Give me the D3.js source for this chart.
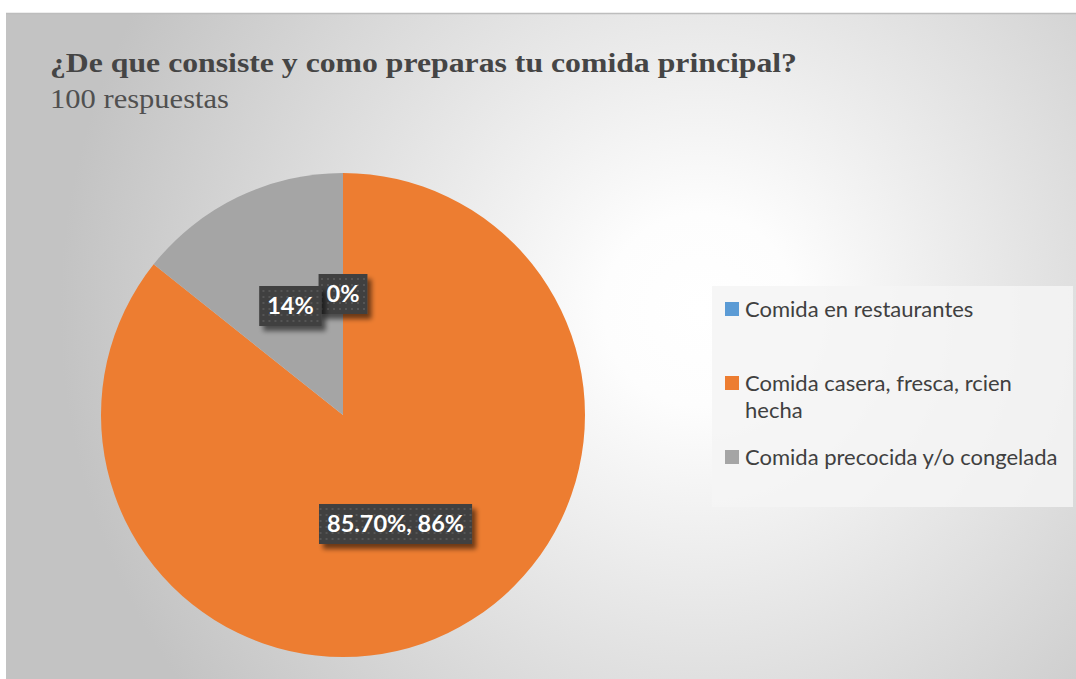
<!DOCTYPE html>
<html>
<head>
<meta charset="utf-8">
<script src="https://cdn.jsdelivr.net/npm/d3@7"></script>
<style>
  html, body { margin: 0; padding: 0; background: #ffffff; }
  svg { display: block; }
</style>
</head>
<body>
<svg id="chart" width="1076" height="679"></svg>
<script>
// Survey answers (percent of 100 responses)
const categories = [
  "Comida en restaurantes",
  "Comida casera, fresca, rcien hecha",
  "Comida precocida y/o congelada"
];
const values = [0, 85.7, 14.3];
// Whether the data label also shows the raw value before the percentage
const showValueInLabel = [false, true, false];
const colors = ["#5b9bd5", "#ed7d31", "#a5a5a5"];
// Legend lines (the long category wraps onto two lines)
const legendLines = [
  ["Comida en restaurantes"],
  ["Comida casera, fresca, rcien", "hecha"],
  ["Comida precocida y/o congelada"]
];
const titleText = "¿De que consiste y como preparas tu comida principal?";
const subtitleText = "100 respuestas";

const W = 1076, H = 679;
const svg = d3.select("#chart");
const defs = svg.append("defs");

// Chart area background: radial gray-to-white gradient
const grad = defs.append("radialGradient")
  .attr("id", "bg").attr("gradientUnits", "userSpaceOnUse")
  .attr("cx", 700).attr("cy", 310).attr("r", 640);
grad.append("stop").attr("offset", 0).attr("stop-color", "#ffffff");
grad.append("stop").attr("offset", 0.15).attr("stop-color", "#fdfdfd");
grad.append("stop").attr("offset", 1).attr("stop-color", "#c3c3c3");

// Dotted texture for data label boxes
const pat = defs.append("pattern").attr("id", "dots")
  .attr("patternUnits", "userSpaceOnUse").attr("width", 6).attr("height", 6);
pat.append("rect").attr("width", 6).attr("height", 6).attr("fill", "#404040");
pat.append("rect").attr("x", 2).attr("y", 2).attr("width", 2).attr("height", 2).attr("fill", "#545454");

// Soft drop shadow for label boxes
const sh = defs.append("filter").attr("id", "shadow")
  .attr("x", "-20%").attr("y", "-30%").attr("width", "150%").attr("height", "180%");
sh.append("feGaussianBlur").attr("in", "SourceAlpha").attr("stdDeviation", 2.5).attr("result", "b");
sh.append("feOffset").attr("in", "b").attr("dx", 4).attr("dy", 5).attr("result", "o");
sh.append("feComponentTransfer").attr("in", "o").attr("result", "s")
  .append("feFuncA").attr("type", "linear").attr("slope", 0.55);
const m = sh.append("feMerge");
m.append("feMergeNode").attr("in", "s");
m.append("feMergeNode").attr("in", "SourceGraphic");

const frame = { x: 6, y: 13, w: W - 6, h: H - 13 };
svg.append("rect")
  .attr("x", frame.x).attr("y", frame.y).attr("width", frame.w).attr("height", frame.h)
  .attr("fill", "url(#bg)");
svg.append("line").attr("x1", frame.x).attr("x2", W).attr("y1", frame.y + 0.5).attr("y2", frame.y + 0.5)
  .attr("stroke", "#bdbdbd").attr("stroke-width", 1.5);

// Titles
svg.append("text")
  .attr("x", 50).attr("y", 72)
  .attr("font-family", "'Liberation Serif', 'DejaVu Serif', serif")
  .attr("font-weight", "bold").attr("font-size", 28)
  .attr("textLength", 747).attr("lengthAdjust", "spacingAndGlyphs")
  .attr("fill", "#454545")
  .text(titleText);
svg.append("text")
  .attr("x", 50).attr("y", 108)
  .attr("font-family", "'Liberation Serif', 'DejaVu Serif', serif")
  .attr("font-size", 28)
  .attr("textLength", 179).attr("lengthAdjust", "spacingAndGlyphs")
  .attr("fill", "#505050")
  .text(subtitleText);

// Pie
const cx = 343, cy = 415, R = 242;
const total = d3.sum(values);
const pie = d3.pie().sort(null).value(d => d)(values);
const arc = d3.arc().innerRadius(0).outerRadius(R);
const labelArc = d3.arc().innerRadius(R * 0.5).outerRadius(R * 0.5);

const g = svg.append("g").attr("transform", `translate(${cx},${cy})`);
g.selectAll("path.slice").data(pie).join("path")
  .attr("class", "slice")
  .attr("d", arc)
  .attr("fill", (d, i) => colors[i]);

const pctFmt = d3.format(".0%");
const valFmt = v => d3.format(".2f")(v) + "%";
const labelText = (d, i) => showValueInLabel[i]
  ? `${valFmt(d.data)}, ${pctFmt(d.data / total)}`
  : pctFmt(d.data / total);

const lab = g.selectAll("g.lab").data(pie).join("g")
  .attr("class", "lab")
  .attr("transform", d => { const c = labelArc.centroid(d); return `translate(${c[0]},${c[1]})`; });
lab.each(function (d, i) {
  const sel = d3.select(this);
  const t = sel.append("text")
    .attr("text-anchor", "middle").attr("dy", "0.36em")
    .attr("font-family", "Lato, 'Open Sans', sans-serif")
    .attr("font-weight", "bold").attr("font-size", 23.5)
    .attr("fill", "#ffffff")
    .text(labelText(d, i));
  const w = t.node().getComputedTextLength();
  sel.insert("rect", "text")
    .attr("x", -w / 2 - 8).attr("y", -20)
    .attr("width", w + 16).attr("height", 40)
    .attr("fill", "url(#dots)")
    .attr("filter", "url(#shadow)");
});

// Legend
const lg = svg.append("g");
lg.append("rect").attr("x", 712).attr("y", 286).attr("width", 361).attr("height", 221)
  .attr("fill", "#f5f5f5").attr("fill-opacity", 0.85);
const rowY = [309, 383, 457];
const item = lg.selectAll("g.item").data(categories).join("g")
  .attr("class", "item")
  .attr("transform", (d, i) => `translate(725,${rowY[i]})`);
item.append("rect").attr("x", 0).attr("y", -7).attr("width", 14).attr("height", 14)
  .attr("fill", (d, i) => colors[i]);
item.each(function (d, i) {
  const t = d3.select(this).append("text")
    .attr("x", 20).attr("y", 0)
    .attr("font-family", "Lato, 'Open Sans', sans-serif")
    .attr("font-size", 22).attr("fill", "#404040");
  legendLines[i].forEach((line, k) => {
    t.append("tspan").attr("x", 20).attr("dy", k === 0 ? "0.35em" : 27).text(line);
  });
});
</script>
</body>
</html>
